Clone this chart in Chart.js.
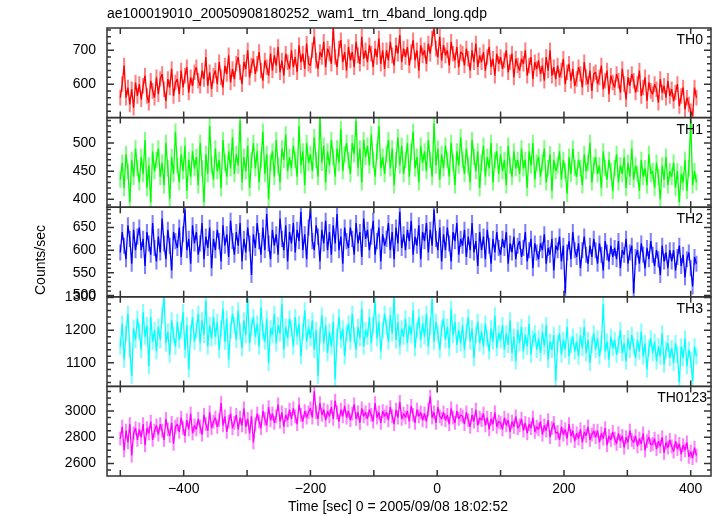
<!DOCTYPE html>
<html lang="en">
<head>
<meta charset="UTF-8">
<title>ae100019010 WAM light curve</title>
<script src="https://cdn.jsdelivr.net/npm/chart.js"></script>
<style>
  body { margin: 0; background: #fff; }
  #wrap { width: 717px; height: 516px; }
</style>
</head>
<body>
<div id="wrap"><canvas id="lc" width="717" height="516"></canvas></div>
<script>
// Time bins, sec from 2005/09/08 18:02:52
const times = [
  -500, -497, -494, -491, -488, -485, -482, -479, -476, -473,
  -470, -467, -464, -461, -458, -455, -452, -449, -446, -443,
  -440, -437, -434, -431, -428, -425, -422, -419, -416, -413,
  -410, -407, -404, -401, -398, -395, -392, -389, -386, -383,
  -380, -377, -374, -371, -368, -365, -362, -359, -356, -353,
  -350, -347, -344, -341, -338, -335, -332, -329, -326, -323,
  -320, -317, -314, -311, -308, -305, -302, -299, -296, -293,
  -290, -287, -284, -281, -278, -275, -272, -269, -266, -263,
  -260, -257, -254, -251, -248, -245, -242, -239, -236, -233,
  -230, -227, -224, -221, -218, -215, -212, -209, -206, -203,
  -200, -197, -194, -191, -188, -185, -182, -179, -176, -173,
  -170, -167, -164, -161, -158, -155, -152, -149, -146, -143,
  -140, -137, -134, -131, -128, -125, -122, -119, -116, -113,
  -110, -107, -104, -101, -98, -95, -92, -89, -86, -83,
  -80, -77, -74, -71, -68, -65, -62, -59, -56, -53,
  -50, -47, -44, -41, -38, -35, -32, -29, -26, -23,
  -20, -17, -14, -11, -8, -5, -2, 1, 4, 7,
  10, 13, 16, 19, 22, 25, 28, 31, 34, 37,
  40, 43, 46, 49, 52, 55, 58, 61, 64, 67,
  70, 73, 76, 79, 82, 85, 88, 91, 94, 97,
  100, 103, 106, 109, 112, 115, 118, 121, 124, 127,
  130, 133, 136, 139, 142, 145, 148, 151, 154, 157,
  160, 163, 166, 169, 172, 175, 178, 181, 184, 187,
  190, 193, 196, 199, 202, 205, 208, 211, 214, 217,
  220, 223, 226, 229, 232, 235, 238, 241, 244, 247,
  250, 253, 256, 259, 262, 265, 268, 271, 274, 277,
  280, 283, 286, 289, 292, 295, 298, 301, 304, 307,
  310, 313, 316, 319, 322, 325, 328, 331, 334, 337,
  340, 343, 346, 349, 352, 355, 358, 361, 364, 367,
  370, 373, 376, 379, 382, 385, 388, 391, 394, 397,
  400, 403, 406, 409
];

// Counts/sec per band
const th0 = [
  560, 600, 655, 560, 590, 540, 585, 530, 605, 565,
  600, 555, 595, 625, 565, 545, 610, 580, 560, 620,
  570, 615, 630, 585, 550, 615, 590, 645, 565, 605,
  615, 570, 640, 590, 625, 650, 575, 620, 595, 635,
  650, 610, 595, 640, 615, 680, 595, 635, 585, 625,
  640, 600, 665, 620, 590, 655, 630, 685, 605, 645,
  615, 660, 680, 635, 600, 665, 645, 700, 620, 655,
  675, 630, 660, 695, 640, 610, 670, 650, 625, 690,
  640, 685, 655, 710, 635, 670, 625, 690, 665, 645,
  700, 650, 680, 635, 715, 665, 690, 645, 720, 660,
  655, 700, 740, 670, 645, 695, 680, 725, 650, 705,
  690, 660, 765, 680, 650, 705, 730, 665, 695, 640,
  710, 670, 695, 650, 725, 685, 660, 740, 675, 700,
  665, 715, 690, 650, 705, 680, 735, 660, 700, 645,
  700, 670, 725, 685, 655, 715, 690, 745, 665, 705,
  680, 710, 655, 695, 730, 670, 700, 640, 715, 685,
  700, 660, 720, 690, 735, 765, 705, 680, 740, 670,
  715, 685, 700, 655, 725, 690, 670, 710, 650, 695,
  690, 655, 705, 675, 640, 700, 665, 720, 650, 685,
  665, 695, 640, 680, 710, 650, 675, 625, 690, 660,
  680, 645, 670, 700, 635, 665, 690, 620, 675, 655,
  640, 675, 660, 700, 625, 655, 680, 615, 665, 645,
  670, 630, 655, 610, 680, 640, 700, 625, 650, 615,
  655, 620, 640, 675, 600, 635, 660, 610, 645, 595,
  615, 650, 630, 590, 665, 620, 600, 640, 580, 630,
  635, 600, 620, 655, 585, 610, 640, 570, 625, 605,
  590, 630, 610, 575, 645, 600, 555, 620, 595, 630,
  610, 575, 600, 640, 565, 590, 620, 550, 605, 580,
  570, 600, 585, 545, 615, 575, 595, 560, 610, 565,
  585, 550, 575, 600, 535, 565, 590, 525, 560, 540,
  520, 505, 590, 560
];
const th1 = [
  435, 465, 420, 480, 450, 395, 470, 440, 490, 455,
  430, 475, 445, 505, 420, 460, 395, 485, 450, 470,
  490, 440, 465, 425, 500, 455, 400, 475, 445, 520,
  460, 430, 480, 450, 495, 415, 470, 440, 485, 455,
  475, 425, 500, 455, 395, 480, 445, 530, 460, 435,
  490, 450, 470, 420, 505, 465, 440, 485, 455, 510,
  445, 480, 460, 540, 430, 475, 450, 495, 420, 470,
  500, 455, 485, 430, 470, 520, 445, 480, 400, 465,
  485, 440, 505, 460, 430, 490, 470, 515, 450, 475,
  455, 495, 470, 440, 530, 460, 485, 425, 500, 465,
  480, 450, 510, 470, 440, 545, 465, 495, 430, 485,
  460, 505, 475, 440, 490, 465, 525, 450, 480, 500,
  470, 445, 500, 480, 540, 455, 490, 430, 505, 475,
  495, 460, 515, 470, 440, 485, 530, 455, 475, 445,
  480, 505, 455, 490, 425, 470, 510, 460, 495, 445,
  470, 500, 440, 485, 520, 455, 475, 430, 495, 465,
  485, 450, 505, 470, 440, 535, 460, 490, 435, 480,
  455, 495, 470, 440, 500, 465, 425, 485, 460, 510,
  470, 445, 490, 460, 430, 505, 475, 450, 485, 420,
  465, 495, 440, 475, 455, 500, 430, 470, 485, 445,
  480, 450, 470, 425, 495, 460, 440, 485, 455, 470,
  445, 490, 455, 470, 420, 485, 460, 500, 435, 465,
  475, 440, 465, 490, 430, 455, 480, 415, 470, 450,
  460, 485, 435, 470, 450, 410, 475, 445, 490, 455,
  440, 470, 455, 425, 480, 450, 465, 500, 430, 460,
  475, 445, 460, 420, 485, 455, 435, 470, 450, 415,
  455, 480, 430, 460, 445, 475, 420, 465, 440, 490,
  435, 460, 445, 415, 470, 440, 455, 425, 480, 445,
  450, 420, 465, 440, 400, 460, 435, 475, 425, 450,
  440, 465, 420, 450, 395, 445, 430, 470, 415, 455,
  540, 425, 450, 430
];
const th2 = [
  595, 640, 610, 580, 655, 625, 570, 645, 600, 630,
  650, 600, 625, 565, 640, 615, 590, 660, 605, 575,
  630, 595, 670, 615, 580, 645, 610, 555, 640, 620,
  605, 650, 585, 635, 690, 600, 625, 570, 655, 615,
  640, 590, 615, 660, 580, 630, 605, 650, 560, 625,
  600, 645, 620, 575, 655, 610, 635, 585, 665, 620,
  590, 640, 610, 660, 575, 625, 595, 650, 615, 545,
  635, 605, 660, 620, 590, 650, 600, 680, 615, 580,
  645, 610, 635, 590, 670, 625, 600, 655, 575, 640,
  615, 660, 595, 645, 620, 685, 600, 635, 580, 650,
  690, 620, 600, 655, 630, 575, 645, 615, 665, 600,
  640, 590, 655, 615, 680, 600, 630, 570, 650, 620,
  605, 650, 625, 590, 660, 615, 640, 585, 670, 625,
  645, 600, 630, 665, 590, 620, 650, 575, 635, 610,
  625, 660, 600, 640, 580, 650, 615, 685, 605, 635,
  600, 645, 620, 665, 590, 630, 610, 655, 580, 640,
  620, 660, 595, 645, 610, 690, 625, 600, 650, 575,
  635, 600, 650, 615, 575, 640, 620, 660, 590, 625,
  610, 645, 585, 630, 600, 660, 595, 620, 565, 640,
  600, 630, 580, 645, 610, 570, 625, 595, 640, 605,
  590, 625, 605, 640, 570, 615, 595, 630, 580, 610,
  620, 585, 605, 640, 575, 600, 625, 560, 615, 595,
  580, 615, 600, 635, 570, 605, 590, 625, 555, 610,
  600, 630, 575, 610, 505, 595, 620, 580, 640, 600,
  585, 615, 560, 600, 630, 590, 570, 610, 585, 625,
  600, 570, 615, 590, 555, 620, 595, 575, 610, 585,
  605, 580, 620, 560, 600, 590, 625, 570, 595, 610,
  505, 585, 600, 570, 615, 590, 560, 605, 580, 620,
  590, 565, 600, 580, 545, 610, 575, 595, 560, 600,
  575, 600, 555, 585, 610, 565, 590, 540, 580, 595,
  560, 520, 585, 570
];
const th3 = [
  1150, 1220, 1110, 1190, 1250, 1140, 1060, 1205, 1170, 1235,
  1195, 1140, 1255, 1180, 1215, 1090, 1240, 1165, 1200, 1135,
  1210, 1170, 1245, 1300, 1160, 1195, 1125, 1230, 1185, 1150,
  1225, 1170, 1200, 1255, 1140, 1215, 1080, 1190, 1240, 1165,
  1200, 1250, 1160, 1230, 1185, 1290, 1150, 1215, 1175, 1240,
  1180, 1225, 1140, 1205, 1265, 1165, 1235, 1110, 1200, 1250,
  1215, 1170, 1260, 1195, 1145, 1230, 1185, 1295, 1160, 1210,
  1240, 1180, 1220, 1150, 1270, 1195, 1165, 1235, 1100, 1205,
  1185, 1250, 1160, 1215, 1190, 1280, 1140, 1210, 1175, 1235,
  1205, 1150, 1240, 1180, 1220, 1120, 1195, 1260, 1165, 1210,
  1175, 1230, 1140, 1200, 1060, 1185, 1245, 1160, 1215, 1130,
  1195, 1150, 1225, 1050, 1180, 1240, 1170, 1205, 1120, 1190,
  1220, 1165, 1250, 1185, 1140, 1210, 1175, 1265, 1150, 1200,
  1180, 1240, 1160, 1215, 1285, 1175, 1225, 1135, 1200, 1250,
  1210, 1165, 1245, 1190, 1300, 1170, 1225, 1150, 1205, 1180,
  1235, 1160, 1215, 1185, 1260, 1145, 1200, 1240, 1170, 1220,
  1180, 1250, 1150, 1210, 1295, 1165, 1225, 1190, 1140, 1205,
  1235, 1170, 1210, 1145, 1265, 1185, 1225, 1155, 1200, 1160,
  1215, 1140, 1195, 1240, 1165, 1205, 1115, 1185, 1225, 1160,
  1195, 1150, 1220, 1175, 1135, 1205, 1165, 1245, 1145, 1190,
  1170, 1215, 1140, 1190, 1155, 1230, 1130, 1180, 1105, 1200,
  1160, 1210, 1135, 1185, 1150, 1220, 1125, 1175, 1190, 1140,
  1175, 1130, 1195, 1150, 1215, 1110, 1165, 1140, 1185, 1045,
  1160, 1190, 1125, 1170, 1140, 1210, 1120, 1155, 1180, 1135,
  1165, 1120, 1185, 1145, 1210, 1130, 1170, 1100, 1155, 1190,
  1140, 1175, 1120, 1160, 1280, 1135, 1165, 1110, 1180, 1145,
  1170, 1125, 1155, 1200, 1130, 1160, 1105, 1175, 1140, 1185,
  1150, 1115, 1170, 1135, 1195, 1120, 1160, 1080, 1145, 1175,
  1130, 1165, 1105, 1150, 1120, 1190, 1095, 1140, 1160, 1115,
  1145, 1100, 1160, 1125, 1040, 1150, 1115, 1175, 1090, 1140,
  1110, 1045, 1150, 1120
];
const th0123 = [
  2790, 2880, 2700, 2850, 2760, 2900, 2660, 2830, 2870, 2780,
  2860, 2800, 2900, 2740, 2870, 2830, 2920, 2780, 2850, 2890,
  2820, 2900, 2850, 2780, 2940, 2860, 2810, 2910, 2750, 2880,
  2900, 2840, 2950, 2870, 2810, 2930, 2860, 2980, 2830, 2890,
  2860, 2940, 2880, 2820, 2970, 2900, 2850, 2990, 2870, 2920,
  2950, 2880, 2930, 3060, 2890, 2960, 2840, 2920, 2980, 2870,
  2910, 2970, 2860, 2950, 2890, 3020, 2880, 2940, 2830, 2960,
  2760, 2900, 2980, 2920, 2870, 3000, 2940, 2890, 3030, 2930,
  2980, 2910, 2960, 3050, 2920, 2990, 2880, 2970, 2930, 3010,
  2940, 3020, 2960, 2900, 3050, 2970, 2920, 3000, 2950, 2990,
  3020, 2950, 3150, 2990, 2940, 3060, 2970, 3010, 2930, 3000,
  2960, 3030, 2940, 3080, 2990, 2920, 3010, 2960, 3040, 2950,
  3000, 2930, 2980, 3050, 2940, 2990, 2910, 3020, 2960, 2990,
  2940, 3010, 2970, 2920, 3060, 2950, 2990, 2910, 3000, 2960,
  2990, 2930, 3030, 2960, 2900, 3010, 2950, 3070, 2940, 2980,
  2950, 3000, 2920, 3040, 2970, 2910, 3010, 2960, 2990, 2930,
  2980, 2920, 3010, 3110, 2950, 2990, 2910, 3030, 2960, 2940,
  2990, 2930, 2970, 2900, 3020, 2950, 2910, 3000, 2940, 2970,
  2960, 2900, 2990, 2930, 2880, 2970, 2920, 3010, 2890, 2950,
  2930, 2980, 2890, 2950, 2860, 2940, 2900, 2990, 2880, 2920,
  2910, 2860, 2950, 2890, 2930, 2840, 2920, 2880, 2960, 2870,
  2890, 2940, 2850, 2910, 2830, 2900, 2870, 2950, 2840, 2880,
  2860, 2920, 2820, 2890, 2850, 2930, 2800, 2870, 2910, 2830,
  2840, 2780, 2880, 2820, 2860, 2790, 2900, 2810, 2850, 2770,
  2830, 2790, 2860, 2760, 2840, 2810, 2880, 2780, 2820, 2850,
  2800, 2850, 2760, 2830, 2790, 2870, 2740, 2810, 2780, 2840,
  2790, 2750, 2830, 2770, 2810, 2720, 2800, 2760, 2850, 2780,
  2760, 2810, 2730, 2790, 2750, 2830, 2700, 2770, 2800, 2740,
  2750, 2790, 2710, 2770, 2730, 2800, 2680, 2760, 2720, 2780,
  2730, 2690, 2770, 2710, 2750, 2670, 2740, 2700, 2760, 2650,
  2690, 2640, 2720, 2660
];

// 1-sigma error per bin, read from the light error-bar extent
const th0Err = 22;
const th1Err = 14;
const th2Err = 17;
const th3Err = 24;
const th0123Err = 50;

// Labelled ticks
const xTicks = [-400, -200, 0, 200, 400];
const th0Ticks = [600, 700];
const th1Ticks = [400, 450, 500];
const th2Ticks = [500, 550, 600, 650];
const th3Ticks = [1100, 1200, 1300];
const th0123Ticks = [2600, 2800, 3000];

const FONT = "'Liberation Sans', Arial, Helvetica, sans-serif";

const panels = [
  { label: 'TH0', values: th0, err: th0Err, ticks: th0Ticks, min: 501, max: 766, minor: 20, color: '#ff0000', light: '#ff8080' },
  { label: 'TH1', values: th1, err: th1Err, ticks: th1Ticks, min: 386, max: 545, minor: 10, color: '#00ff00', light: '#80ff80' },
  { label: 'TH2', values: th2, err: th2Err, ticks: th2Ticks, min: 497, max: 695, minor: 10, color: '#0000ff', light: '#8080ff' },
  { label: 'TH3', values: th3, err: th3Err, ticks: th3Ticks, min: 1028, max: 1302, minor: 20, color: '#00ffff', light: '#80ffff' },
  { label: 'TH0123', values: th0123, err: th0123Err, ticks: th0123Ticks, min: 2504, max: 3188, minor: 50, color: '#ff00ff', light: '#ff80ff' }
];

function minusSign(v) {
  return v < 0 ? '\u2212' + Math.abs(v) : String(v);
}

// x axis plus one stacked y axis per band (last one added ends up on top)
const scales = {
  x: {
    type: 'linear', position: 'bottom', min: -521, max: 432, offset: false,
    grid: { display: false, drawTicks: false },
    border: { display: false },
    afterBuildTicks: s => { s.ticks = xTicks.map(v => ({ value: v })); },
    afterFit: s => { s.height = 40; },
    ticks: { color: '#000', font: { family: FONT, size: 14 }, padding: 5, maxRotation: 0, autoSkip: false, callback: minusSign }
  }
};
for (let i = panels.length - 1; i >= 0; i--) {
  const p = panels[i];
  scales['y' + i] = {
    type: 'linear', position: 'left', stack: 'wam', stackWeight: 1,
    min: p.min, max: p.max,
    grid: { display: false, drawTicks: false },
    border: { display: false },
    afterBuildTicks: s => { s.ticks = p.ticks.map(v => ({ value: v })); },
    afterFit: s => { s.width = 107; },
    ticks: { color: '#000', font: { family: FONT, size: 14 }, padding: 11, autoSkip: false, callback: v => String(v) }
  };
}

// per band: value line on top of floating error bars
const datasets = [];
panels.forEach((p, i) => {
  datasets.push({
    type: 'line', label: p.label, yAxisID: 'y' + i, order: 0,
    data: times.map((t, k) => ({ x: t, y: p.values[k] })),
    borderColor: p.color, borderWidth: 1.3, pointRadius: 0
  });
  datasets.push({
    type: 'bar', label: p.label + ' error', yAxisID: 'y' + i, order: 1,
    data: times.map((t, k) => ({ x: t, y: [p.values[k] - p.err, p.values[k] + p.err] })),
    backgroundColor: p.light, borderWidth: 0, barThickness: 1.4, grouped: false
  });
});

// frames, inward tick marks, band names, axis titles
const qdpFrame = {
  id: 'qdpFrame',
  afterDraw(chart) {
    const ctx = chart.ctx;
    const area = chart.chartArea;
    const xs = chart.scales.x;
    ctx.save();
    ctx.strokeStyle = '#333';
    ctx.lineWidth = 1.5;
    panels.forEach((p, i) => {
      const ys = chart.scales['y' + i];
      const top = ys.top, bot = ys.bottom;
      ctx.strokeRect(area.left, top, area.right - area.left, bot - top);
      ctx.beginPath();
      // y ticks, both sides
      const start = Math.ceil(p.min / p.minor) * p.minor;
      for (let v = start; v <= p.max; v += p.minor) {
        const y = ys.getPixelForValue(v);
        const len = p.ticks.includes(v) ? 7 : 4;
        ctx.moveTo(area.left, y); ctx.lineTo(area.left + len, y);
        ctx.moveTo(area.right, y); ctx.lineTo(area.right - len, y);
      }
      // x ticks, top and bottom of each panel
      for (let v = -500; v <= 400; v += 100) {
        const x = xs.getPixelForValue(v);
        ctx.moveTo(x, top); ctx.lineTo(x, top + 6);
        ctx.moveTo(x, bot); ctx.lineTo(x, bot - 6);
      }
      ctx.stroke();
      ctx.fillStyle = '#000';
      ctx.font = '14px ' + FONT;
      ctx.textAlign = 'right';
      ctx.textBaseline = 'alphabetic';
      ctx.fillText(p.label, area.right - 8 + (p.label.length > 3 ? 4 : 0), top + 16);
    });
    ctx.fillStyle = '#000';
    ctx.font = '14px ' + FONT;
    ctx.textAlign = 'center';
    ctx.textBaseline = 'middle';
    ctx.fillText('Time [sec] 0 = 2005/09/08 18:02:52', 398, 507);
    ctx.translate(41, 260);
    ctx.rotate(-Math.PI / 2);
    ctx.fillText('Counts/sec', 0, 0);
    ctx.restore();
  }
};

new Chart(document.getElementById('lc'), {
  type: 'line',
  data: { datasets: datasets },
  options: {
    responsive: false,
    animation: false,
    layout: { padding: { left: 0, right: 6, top: 0, bottom: 0 } },
    elements: { line: { tension: 0, borderJoinStyle: 'bevel' } },
    scales: scales,
    plugins: {
      legend: { display: false },
      tooltip: { enabled: false },
      title: {
        display: true, align: 'start', fullSize: false, color: '#000',
        text: 'ae100019010_20050908180252_wam1_trn_4band_long.qdp',
        font: { family: FONT, size: 14, weight: 'normal' },
        padding: { top: 5.6, bottom: 5.6 }
      }
    }
  },
  plugins: [qdpFrame]
});
</script>
</body>
</html>
